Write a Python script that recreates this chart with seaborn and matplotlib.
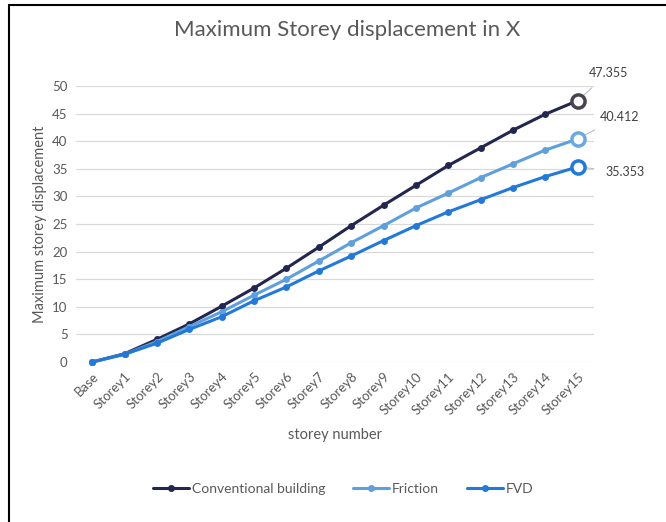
import numpy as np
import pandas as pd
import matplotlib
matplotlib.use("Agg")
import matplotlib.pyplot as plt
import seaborn as sns
from matplotlib.lines import Line2D

storeys = ["Base"] + [f"Storey{i}" for i in range(1, 16)]
conventional = [0, 1.5, 4.1, 6.9, 10.1, 13.4, 17.0, 20.8, 24.7, 28.4, 32.0, 35.6, 38.8, 42.0, 44.9, 47.355]
friction = [0, 1.4, 3.7, 6.4, 9.1, 12.1, 15.0, 18.3, 21.6, 24.7, 27.9, 30.6, 33.4, 35.9, 38.4, 40.412]
fvd = [0, 1.4, 3.4, 5.9, 8.2, 11.1, 13.6, 16.5, 19.2, 22.0, 24.7, 27.2, 29.4, 31.6, 33.6, 35.353]

series = {"Conventional building": conventional, "Friction": friction, "FVD": fvd}
colors = {"Conventional building": "#23264f", "Friction": "#5f9fdb", "FVD": "#2379d8"}
end_edge = {"Conventional building": "#4a4250", "Friction": "#6ea8e0", "FVD": "#2379d8"}
# label position offsets (points) for the end values
label_off = {"Conventional building": (22, 20), "Friction": (30, 16), "FVD": (34, -4)}

df = pd.DataFrame({"storey": storeys * 3,
                   "pos": list(range(16)) * 3,
                   "value": conventional + friction + fvd,
                   "series": sum([[k] * 16 for k in series], [])})

sns.set_style("white")
plt.rcParams["font.family"] = ["Lato", "DejaVu Sans"]
grey = "#595959"

fig = plt.figure(figsize=(6.66, 5.22), dpi=100)
ax = fig.add_axes([76 / 666, 1 - 362 / 522, 518 / 666, 276 / 522])

sns.lineplot(data=df, x="pos", y="value", hue="series", palette=colors,
             marker="o", markersize=5, markeredgewidth=0, linewidth=2.2,
             ax=ax, legend=False, clip_on=False)

for name, vals in series.items():
    ax.scatter([15], [vals[-1]], s=90, facecolor="white", edgecolor=end_edge[name],
               linewidth=2.5, zorder=5, clip_on=False)
    dx, dy = label_off[name]
    ax.annotate(f"{vals[-1]:.3f}", xy=(15, vals[-1]), xytext=(dx, dy),
                textcoords="offset points", fontsize=9, color="#404040",
                ha="center", va="center",
                arrowprops=dict(arrowstyle="-", color="#bfbfbf", lw=0.8,
                                shrinkA=6, shrinkB=4))

ax.set_xlim(-0.5, 15.5)
ax.set_ylim(0, 50)
ax.set_yticks(np.arange(0, 51, 5))
ax.set_xticks(range(16))
ax.set_xticklabels(storeys, rotation=45, ha="right", rotation_mode="anchor")
ax.tick_params(axis="both", length=0, labelsize=9.5, colors=grey, pad=6)
ax.yaxis.grid(True, color="#d9d9d9", linewidth=0.9)
ax.xaxis.grid(False)
sns.despine(ax=ax, left=True, bottom=True)
ax.set_axisbelow(True)

ax.set_xlabel("storey number", fontsize=10.5, color=grey, labelpad=8)
ax.set_ylabel("Maximum storey displacement", fontsize=10.5, color=grey, labelpad=4)
fig.text(347 / 666, 1 - 30 / 522, "Maximum Storey displacement in X",
         fontsize=16, color=grey, ha="center", va="center")

handles = [Line2D([], [], color=colors[k], marker="o", markersize=4, linewidth=2.2)
           for k in series]
fig.legend(handles, list(series), loc="center", bbox_to_anchor=(343 / 666, 1 - 489 / 522),
           ncol=3, frameon=False, fontsize=10, handlelength=2.6, handletextpad=0.2,
           columnspacing=2.0, labelcolor=grey)

# outer frame lines (top and left)
fig.add_artist(Line2D([9 / 666, 1], [1 - 5 / 522, 1 - 5 / 522], color="black", lw=1.5,
                      transform=fig.transFigure))
fig.add_artist(Line2D([9 / 666, 9 / 666], [0, 1 - 5 / 522], color="black", lw=1.5,
                      transform=fig.transFigure))

fig.savefig("out.png", dpi=100)
